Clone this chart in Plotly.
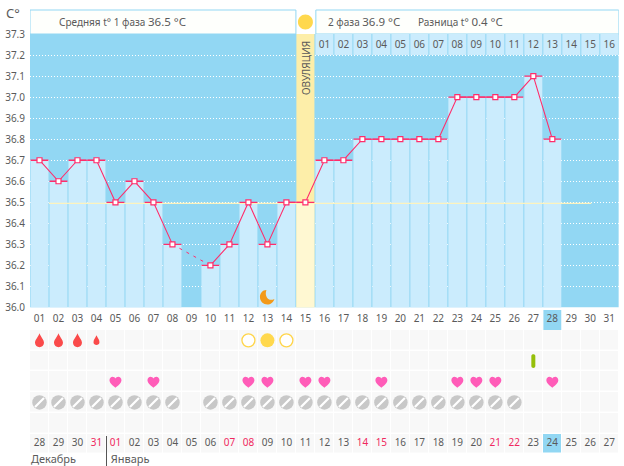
import plotly.graph_objects as go

W, H = 624, 466

DARK_BLUE = "#92D7F3"
LIGHT_BLUE = "#CBECFD"
OV_DARK = "#FDEEA9"
OV_LIGHT = "#FFF8D2"
PINK = "#FF2D6B"
TEXT = "#5A5A5A"
RED_TEXT = "#F0285F"
FONT = "Noto Sans"

days = list(range(1, 32))
day_labels = [f"{d:02d}" for d in days]
temps = [36.7, 36.6, 36.7, 36.7, 36.5, 36.6, 36.5, 36.3, None, 36.2, 36.3, 36.5, 36.3, 36.5, 36.5,
         36.7, 36.7, 36.8, 36.8, 36.8, 36.8, 36.8, 37.0, 37.0, 37.0, 37.0, 37.1, 36.8]
y_ticks = [36.0, 36.1, 36.2, 36.3, 36.4, 36.5, 36.6, 36.7, 36.8, 36.9, 37.0, 37.1, 37.2, 37.3]
ovulation_day = 15
today_day = 28
avg_line_days = [1.5, 30.05]
avg_temp = 36.5
top_days = list(range(16, 32))
top_labels = [f"{d:02d}" for d in range(1, 17)]

date_labels = ["28", "29", "30", "31", "01", "02", "03", "04", "05", "06", "07", "08", "09", "10", "11", "12",
               "13", "14", "15", "16", "17", "18", "19", "20", "21", "22", "23", "24", "25", "26", "27"]
red_dates = ["31", "01", "07", "08", "14", "15", "21", "22"]
month_labels = ["Декабрь", "Январь"]
month_days = [0.55, 4.75]

drop_days = [1, 2, 3]
small_drop_days = [4]
sun_open_days = [12, 14]
sun_full_days = [13]
test_days = [27]
heart_days = [5, 7, 12, 13, 15, 16, 19, 23, 24, 25, 28]
pill_days = [1, 2, 3, 4, 5, 6, 7, 8] + list(range(10, 27))
moon_day = 13
moon_temp = 36.05

# rows are 20.7px apart, first row centred at y=340
ROW_TOP, ROW_BOTTOM = 330, 466
ROW_RANGE = [6.07, -0.5]
month_row = 5.8


def px_y(p):
    return 1 - p / H


def px_x(p):
    return p / W


fig = go.Figure()

# light columns under the curve
bar_x = [d for d, t in zip(days, temps) if t is not None]
bar_t = [t for t in temps if t is not None]
fig.add_trace(go.Bar(x=[ovulation_day], y=[1.3], base=36.0, width=0.95, marker_color=OV_DARK, marker_line_width=0, hoverinfo="skip"))
fig.add_trace(go.Bar(
    x=bar_x, y=[t - 36.0 for t in bar_t], base=36.0, width=0.945,
    marker_color=[OV_LIGHT if d == ovulation_day else LIGHT_BLUE for d in bar_x],
    marker_line_width=0, hoverinfo="skip"))
# header cells of the second month part
fig.add_trace(go.Bar(
    x=top_days, y=[0.1] * len(top_days), base=37.2, width=0.945, marker_color=LIGHT_BLUE, marker_line_width=0,
    hoverinfo="skip"))
fig.add_trace(go.Scatter(
    x=top_days, y=[37.245] * len(top_days), mode="text", text=top_labels,
    textfont=dict(size=10, color=TEXT, family=FONT), hoverinfo="skip"))

fig.add_trace(go.Scatter(x=avg_line_days, y=[avg_temp - 0.005] * 2, mode="lines",
                         line=dict(color="#FDF3BE", width=1.3), hoverinfo="skip"))

# horizontal ticks, curve and the dashed bridge over the missing day
fig.add_trace(go.Scatter(
    x=bar_x, y=bar_t, mode="markers", marker=dict(size=1, color=PINK),
    error_x=dict(type="constant", value=0.47, color=PINK, thickness=1.3, width=0), hoverinfo="skip"))
fig.add_trace(go.Scatter(x=[8, 10], y=[36.3, 36.2], mode="lines", line=dict(color=PINK, width=1, dash="3px,5px"), hoverinfo="skip"))
fig.add_trace(go.Scatter(
    x=days[:len(temps)], y=temps, mode="lines+markers", connectgaps=False,
    line=dict(color=PINK, width=1.1),
    marker=dict(symbol="square", size=5, color="white", line=dict(color=PINK, width=1.2)),
    hovertemplate="%{y:.1f}<extra></extra>"))

# rows below the chart
fig.add_trace(go.Heatmap(
    x=days, y=[0, 1, 2, 3, 4, 5],
    z=[[1 if (r == 5 and d == today_day) else 0 for d in days] for r in range(6)],
    colorscale=[[0, "#F8F8F8"], [1, DARK_BLUE]], zmin=0, zmax=1, showscale=False, xgap=1, ygap=1.5,
    hoverinfo="skip", xaxis="x", yaxis="y2"))
fig.add_trace(go.Scatter(
    x=sun_open_days, y=[0] * len(sun_open_days), mode="markers", xaxis="x", yaxis="y2",
    marker=dict(size=13, color="white", line=dict(color="#FFD54A", width=1.3)), hoverinfo="skip"))
fig.add_trace(go.Scatter(
    x=sun_full_days, y=[0] * len(sun_full_days), mode="markers", xaxis="x", yaxis="y2",
    marker=dict(size=14, color="#FFD84D"), hoverinfo="skip"))
fig.add_trace(go.Scatter(
    x=pill_days, y=[3] * len(pill_days), mode="markers", xaxis="x", yaxis="y2",
    marker=dict(size=14.5, color="#C8C8C8"), hoverinfo="skip"))
fig.add_trace(go.Scatter(
    x=pill_days, y=[3] * len(pill_days), mode="markers", xaxis="x", yaxis="y2",
    marker=dict(symbol="line-ne", size=9, line=dict(color="white", width=2.2)), hoverinfo="skip"))
fig.add_trace(go.Scatter(
    x=days, y=[5] * len(days), mode="text", text=date_labels, xaxis="x", yaxis="y2",
    textfont=dict(size=10, family=FONT, color=[RED_TEXT if s in red_dates else TEXT for s in date_labels]),
    hoverinfo="skip"))
fig.add_trace(go.Scatter(
    x=month_days, y=[month_row] * 2, mode="text", text=month_labels, textposition="middle right",
    xaxis="x", yaxis="y2", textfont=dict(size=11, family=FONT, color=TEXT), hoverinfo="skip"))

DROP = "M0,7 C1.5,3 4.5,0.5 4.5,-2.5 C4.5,-5.2 2.3,-6.8 0,-6.8 C-2.3,-6.8 -4.5,-5.2 -4.5,-2.5 C-4.5,0.5 -1.5,3 0,7 Z"
SMALL_DROP = "M0,5 C1,2.5 3,0.5 3,-1.8 C3,-3.6 1.5,-4.6 0,-4.6 C-1.5,-4.6 -3,-3.6 -3,-1.8 C-3,0.5 -1,2.5 0,5 Z"
HEART = "M0,-6 C-2,-4.2 -6,-1.5 -6,1.5 C-6,3.8 -4.4,5 -3,5 C-1.6,5 -0.5,4.2 0,3.2 C0.5,4.2 1.6,5 3,5 C4.4,5 6,3.8 6,1.5 C6,-1.5 2,-4.2 0,-6 Z"
MOON = "M-1,7 C-5,7 -7.5,3.5 -7.5,0 C-7.5,-4.5 -4,-7.5 0,-7.5 C3,-7.5 6,-5.5 7,-2 C4,-3.5 1,-3 -0.5,-0.5 C-1.8,1.5 -2,4.5 -1,7 Z"
TEST = "M-2,5 L-2,-5 C-2,-7.5 2,-7.5 2,-5 L2,5 C2,7.5 -2,7.5 -2,5 Z"
SUN = "M-7.5,0 C-7.5,-4.1 -4.1,-7.5 0,-7.5 C4.1,-7.5 7.5,-4.1 7.5,0 C7.5,4.1 4.1,7.5 0,7.5 C-4.1,7.5 -7.5,4.1 -7.5,0 Z"


def icon(path, x, y, color, yref="y2"):
    return dict(type="path", path=path, xref="x", yref=yref, xsizemode="pixel", ysizemode="pixel",
                xanchor=x, yanchor=y, fillcolor=color, line_width=0, layer="above")


shapes = [
    # dark plot background, below the gridlines
    dict(type="rect", xref="x", yref="y", x0=0.5, x1=31.5, y0=36.0, y1=37.3, fillcolor=DARK_BLUE, line_width=0, layer="below"),
    # header boxes
    dict(type="rect", xref="x", yref="paper", x0=0.5, x1=14.5, y0=px_y(34), y1=px_y(10), fillcolor="#FEFFFC", line=dict(color=DARK_BLUE, width=1), layer="below"),
    dict(type="rect", xref="x", yref="paper", x0=15.55, x1=31.5, y0=px_y(34), y1=px_y(10), fillcolor="#FEFFFC", line=dict(color=DARK_BLUE, width=1), layer="below"),
    # today's cell
    dict(type="rect", xref="x", yref="paper", x0=today_day - 0.47, x1=today_day + 0.47, y0=px_y(330), y1=px_y(310), fillcolor=DARK_BLUE, line_width=0, layer="below"),
    # month divider
    dict(type="line", xref="paper", yref="paper", x0=px_x(106.5), x1=px_x(106.5), y0=px_y(436), y1=px_y(466), line=dict(color="#555555", width=1)),
]
shapes += [icon(DROP, d, 0, "#FA4A4A") for d in drop_days]
shapes += [icon(SMALL_DROP, d, 0, "#FA4A4A") for d in small_drop_days]
shapes += [icon(HEART, d, 2, "#FF5CB8") for d in heart_days]
shapes += [icon(TEST, d, 1, "#95BF0A") for d in test_days]
shapes.append(icon(MOON, moon_day, moon_temp, "#F39A1A", yref="y"))
shapes.append(icon(SUN, ovulation_day, px_y(22), "#FFD84D", yref="paper"))

annotations = [
    dict(text="C°", x=px_x(13), y=px_y(13), xanchor="center", font=dict(size=13, color=TEXT)),
    dict(text="Средняя t° 1 фаза <span style='font-size:11.5px'>36.5 °C</span>", x=px_x(57), y=px_y(22), xanchor="left", font=dict(size=10, color=TEXT)),
    dict(text="2 фаза <span style='font-size:11.5px'>36.9 °C</span>", x=px_x(326), y=px_y(22), xanchor="left", font=dict(size=10, color=TEXT)),
    dict(text="Разница t° <span style='font-size:11.5px'>0.4 °C</span>", x=px_x(416), y=px_y(22), xanchor="left", font=dict(size=10, color=TEXT)),
    dict(text="ОВУЛЯЦИЯ", x=px_x(306), y=px_y(68), xanchor="center", textangle=-90, font=dict(size=10, color=TEXT)),
]
for a in annotations:
    a.update(xref="paper", yref="paper", yanchor="middle", showarrow=False)

fig.update_layout(
    width=W, height=H, margin=dict(l=0, r=0, t=0, b=0), autosize=False, showlegend=False,
    paper_bgcolor="white", plot_bgcolor="white", barmode="overlay", font=dict(family=FONT, color=TEXT, size=10),
    shapes=shapes, annotations=annotations,
    xaxis=dict(domain=[px_x(30), px_x(618.8)], range=[0.5, 31.5], anchor="y", tickmode="array", tickvals=days,
               ticktext=day_labels, ticks="", showgrid=False, zeroline=False, showline=False, automargin=False,
               tickfont=dict(size=10, color=TEXT, family=FONT), ticklabelstandoff=3),
    yaxis=dict(domain=[px_y(307.5), px_y(34)], range=[36.0, 37.3], tickmode="array", tickvals=y_ticks,
               ticktext=[f"{t:.1f}" for t in y_ticks], ticks="", showline=False, zeroline=False, automargin=False,
               showgrid=True, gridcolor="white", griddash="1px,2px", gridwidth=1,
               tickfont=dict(size=10, color=TEXT, family=FONT), ticklabelstandoff=4),
    yaxis2=dict(domain=[px_y(ROW_BOTTOM), px_y(ROW_TOP)], range=ROW_RANGE, anchor="x", visible=False, automargin=False),
)

fig.write_html("out.html", config=dict(displayModeBar=False),
               post_script="document.body.style.margin='0';document.body.style.overflow='hidden';")
